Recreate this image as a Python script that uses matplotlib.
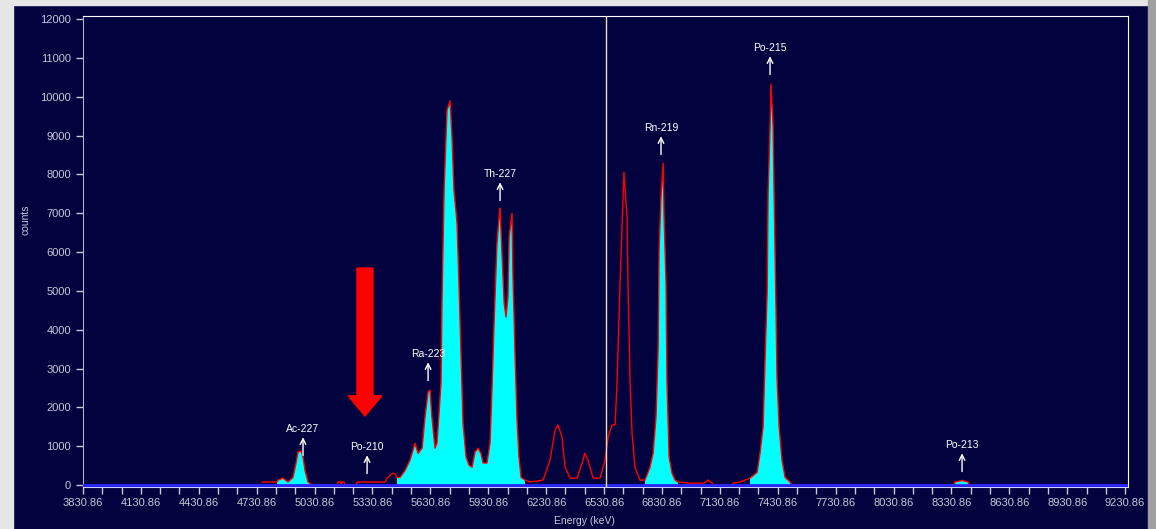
import numpy as np
import matplotlib.pyplot as plt
from matplotlib.patches import Rectangle

plt.rcParams['font.family'] = ['Liberation Sans', 'DejaVu Sans']

# spectrum (energy in keV, counts)
energy = [4758, 4836, 4841, 4867, 4893, 4919, 4935, 4945, 4961, 4971, 4981, 4997, 5007, 5018,
          5147, 5152, 5163, 5168, 5173, 5183, 5189, 5246, 5251, 5396, 5406, 5437, 5448, 5458,
          5474, 5500, 5525, 5541, 5551, 5567, 5588, 5603, 5619, 5629, 5639, 5655, 5665, 5671,
          5686, 5691, 5702, 5717, 5733, 5743, 5753, 5769, 5779, 5790, 5800, 5816, 5831, 5847,
          5862, 5878, 5893, 5904, 5924, 5940, 5950, 5961, 5976, 5987, 5992, 6002, 6013, 6023,
          6033, 6039, 6054, 6059, 6070, 6080, 6090, 6101, 6121, 6147, 6215, 6251, 6277, 6292,
          6313, 6329, 6355, 6391, 6417, 6432, 6448, 6474, 6510, 6536, 6552, 6572, 6588, 6598,
          6614, 6629, 6634, 6650, 6655, 6666, 6676, 6691, 6717, 6743, 6769, 6785, 6800, 6811,
          6816, 6826, 6837, 6842, 6852, 6857, 6868, 6883, 6899, 6914, 6976, 7049, 7070, 7091,
          7100, 7195, 7199, 7236, 7287, 7324, 7339, 7355, 7365, 7376, 7381, 7391, 7396, 7407,
          7412, 7422, 7427, 7438, 7453, 7469, 7495, 7505, 8339, 8350, 8386, 8417, 8427, 9230]
counts = [80, 80, 130, 180, 80, 200, 570, 850, 880, 720, 390, 80, 50, 0,
          0, 80, 80, 0, 80, 80, 0, 0, 80, 80, 180, 310, 280, 200,
          200, 380, 640, 900, 1080, 820, 950, 1750, 2400, 2450, 1750, 950, 1080, 1500,
          2630, 4700, 7600, 9650, 9900, 8970, 7600, 6750, 5200, 3300, 1600, 720, 515, 460,
          850, 950, 820, 570, 570, 1080, 2450, 4170, 6230, 6900, 7130, 5970, 4690, 4330,
          4840, 6390, 7000, 5360, 3300, 1670, 720, 200, 130, 80, 130, 640, 1420, 1550,
          1240, 460, 180, 180, 570, 820, 640, 180, 180, 640, 1240, 1550, 1550, 2630,
          5200, 7340, 8060, 6900, 5200, 2630, 1340, 460, 130, 130, 460, 820, 1750, 3480,
          6060, 7420, 8290, 6900, 5200, 2630, 720, 310, 130, 80, 50, 50, 130, 50,
          0, 0, 50, 80, 180, 330, 820, 1500, 3220, 4950, 7520, 9220, 10330, 9220,
          7520, 4500, 2780, 1500, 640, 200, 80, 0, 0, 80, 120, 80, 0, 0]

# regions of interest (filled cyan)
roi_start = [4836, 5455, 6740, 7265, 8345]
roi_end = [5010, 6125, 6915, 7500, 8420]

# nuclide labels: peak energy and label height (counts)
nuclides = ['Ac-227', 'Po-210', 'Ra-223', 'Th-227', 'Rn-219', 'Po-215', 'Po-213']
nuclide_energy = [4971, 5303, 5619, 5992, 6826, 7391, 8386]
label_height = [1442, 979, 3373, 8008, 9193, 11253, 1030]

cursor_energy = 6541
xticks = [3830.86 + 300 * i for i in range(19)]

bg = '#02023f'
txt = '#c8c8d8'

fig = plt.figure(figsize=(11.56, 5.29), dpi=100, facecolor=bg)
# screenshot frame
fig.patches.append(Rectangle((0, 0.99), 1, 0.01, transform=fig.transFigure, color='#e6e6e6', zorder=0))
fig.patches.append(Rectangle((0, 0), 0.011, 1, transform=fig.transFigure, color='#e6e6e6', zorder=0))
fig.patches.append(Rectangle((0.993, 0), 0.007, 1, transform=fig.transFigure, color='#a0a0a0', zorder=0))

ax = fig.add_axes([0.0718, 0.0800, 0.9040, 0.8898])
ax.set_facecolor(bg)

e = np.array(energy)
c = np.array(counts)
in_roi = np.zeros(len(e), dtype=bool)
for s, t in zip(roi_start, roi_end):
    in_roi |= (e >= s) & (e <= t)

ax.fill_between(e, c, where=in_roi, color='#00ffff', linewidth=0, zorder=2)
ax.plot(e, c, color='red', lw=1, zorder=3)
ax.axhline(0, color='#2a2aff', lw=2, zorder=4)
ax.axvline(cursor_energy, color='#e8e0b8', lw=1, zorder=5)

for name, x, h in zip(nuclides, nuclide_energy, label_height):
    ax.text(x, h, name, color='white', fontsize=7.5, ha='center', va='center', zorder=6)
    ax.annotate('', xy=(x, h - 210), xytext=(x, h - 680),
                arrowprops=dict(arrowstyle='->', color='white', lw=1, shrinkA=0, shrinkB=0),
                zorder=6)

# big red arrow pointing at Po-210
ax.arrow(5292, 5590, 0, -3810, width=83, head_width=175, head_length=520,
         length_includes_head=True, color='red', zorder=6)

ax.set_xlim(3830.86, 9246)
ax.set_ylim(-40, 12080)
ax.set_yticks(range(0, 12001, 1000))
ax.set_xticks(xticks)
ax.set_xticklabels([f'{t:.2f}' for t in xticks])
ax.set_xticks(np.arange(3830.86, 9231, 100), minor=True)
ax.tick_params(axis='both', colors=txt, labelsize=8, length=5, width=1)
ax.tick_params(axis='x', which='minor', colors=txt, length=5, width=1)
ax.tick_params(axis='x', pad=3)

for side in ['top', 'right']:
    ax.spines[side].set_color('white')
ax.spines['left'].set_color('#b0b0c0')
ax.spines['bottom'].set_color('#d0d0ff')

fig.text(0.506, 0.015, 'Energy (keV)', color=txt, fontsize=7.5, ha='center', va='center')
fig.text(0.022, 0.585, 'counts', color=txt, fontsize=7.5, ha='center', va='center', rotation=90)

fig.savefig('out.png', dpi=100, facecolor=bg)
